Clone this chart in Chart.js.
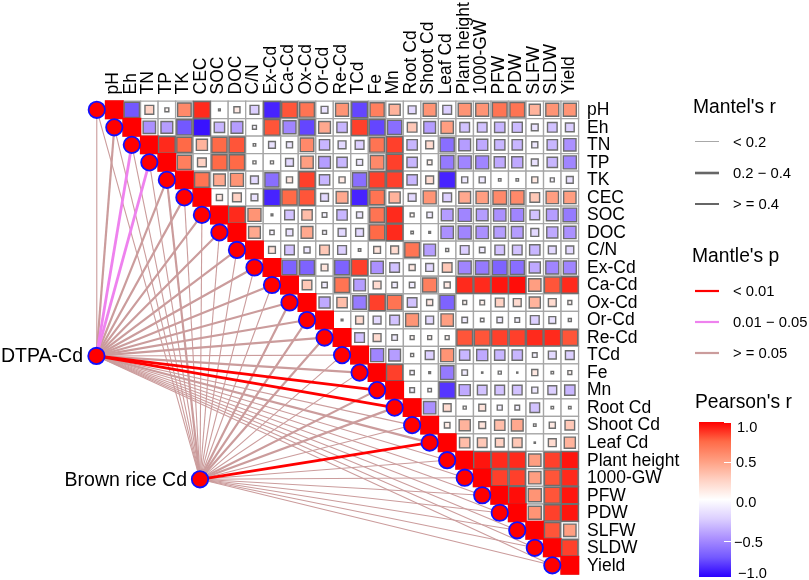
<!DOCTYPE html>
<html>
<head>
<meta charset="utf-8">
<title>Mantel test</title>
<script src="https://cdn.jsdelivr.net/npm/chart.js@4"></script>
<style>
  html, body { margin: 0; padding: 0; background: #fff; }
  canvas { display: block; }
</style>
</head>
<body>
<canvas id="grafico" width="809" height="580"></canvas>
<script>
// variables, same order on both sides of the triangle
const variables = ['pH', 'Eh', 'TN', 'TP', 'TK', 'CEC', 'SOC', 'DOC', 'C/N', 'Ex-Cd', 'Ca-Cd', 'Ox-Cd', 'Or-Cd', 'Re-Cd',
  'TCd', 'Fe', 'Mn', 'Root Cd', 'Shoot Cd', 'Leaf Cd', 'Plant height', '1000-GW', 'PFW', 'PDW', 'SLFW', 'SLDW', 'Yield'];

// Pearson's r, each row starts on the diagonal
const rPH = [1, -.75, .25, .05, .6, .9, .01, .12, -.25, -.9, .8, .7, -.15, .55, -.8, .65, .4, -.2, .55, -.25, .55, .55, .7, .7, .4, .55, .55];
const rEh = [1, -.5, -.45, -.75, -.95, -.35, -.45, -.05, .8, -.55, -.8, .45, -.35, .85, -.8, -.65, .3, -.45, .5, -.3, -.3, -.35, -.33, -.15, -.3, -.25];
const rTN = [1, .9, .75, .4, .75, .8, .02, -.15, -.12, .6, -.35, -.2, -.25, .7, .85, -.35, .2, -.65, -.45, -.4, -.35, -.35, -.12, -.35, -.5];
const rTP = [1, .65, .25, .75, .75, .03, .03, -.2, .5, -.45, -.35, -.12, .6, .85, -.35, .07, -.6, -.55, -.55, -.4, -.4, -.15, -.35, -.55];
const rTK = [1, .7, .45, .55, -.2, -.65, .12, .85, -.35, .12, -.65, .85, .85, -.35, .2, -.9, -.12, -.12, -.02, -.02, .12, -.05, -.15];
const rCEC = [1, .12, .25, -.15, -.9, .75, .8, -.2, .45, -.9, .7, .4, -.2, .55, -.25, .45, .5, .6, .6, .3, .5, .5];
const rSOC = [1, .9, .55, .01, -.3, .35, -.07, -.35, -.12, .7, .9, .05, -.1, -.45, -.55, -.45, -.5, -.55, -.3, -.45, -.6];
const rDOC = [1, .45, -.06, -.15, .45, -.05, -.2, -.2, .75, .9, .02, .01, -.5, -.55, -.5, -.45, -.45, -.2, -.4, -.5];
const rCN = [1, .15, -.3, -.12, .3, -.25, .02, .15, .2, .7, -.45, .03, -.25, -.1, -.3, -.3, -.35, -.2, -.2];
const rEx = [1, -.7, -.7, .15, -.7, .85, -.5, -.3, .12, -.2, .3, -.55, -.6, -.7, -.65, -.4, -.55, -.55];
const rCa = [1, .3, -.1, .7, -.45, .2, -.1, -.1, .65, .12, .9, .9, .95, .97, .5, .8, .9];
const rOx = [1, -.4, .35, -.6, .85, .7, -.3, .12, -.7, .05, .07, .25, .2, .4, .2, .05];
const rOr = [1, .01, .2, -.2, -.3, .55, -.2, .5, -.1, -.04, -.1, -.07, -.25, -.15, -.03];
const rRe = [1, -.3, .2, -.1, .05, .05, .05, .8, .8, .85, .85, .9, .9, .8];
const rTCd = [1, -.55, -.45, .03, -.25, .55, -.35, -.4, -.35, -.35, -.07, -.2, -.25];
const rFe = [1, .85, -.06, .01, -.6, -.1, .005, -.03, .004, .12, .02, .05];
const rMn = [1, -.07, -.04, -.85, -.4, -.3, -.3, -.3, -.12, -.25, -.35];
const rRoot = [1, -.5, .2, .03, .15, -.08, -.07, -.3, .02, .02];
const rShoot = [1, .1, .4, .15, .35, .45, .02, .12, .3];
const rLeaf = [1, .35, .3, .25, .3, .005, .2, .4];
const rPlant = [1, .95, .9, .9, .5, .85, .95];
const r1000 = [1, .85, .85, .5, .8, .9];
const rPFW = [1, .97, .55, .8, .95];
const rPDW = [1, .55, .85, .95];
const rSLFW = [1, .8, .5];
const rSLDW = [1, .85];
const rYield = [1];

// Mantel classes per variable. r: 0 = <0.2, 1 = 0.2-0.4, 2 = >=0.4   p: 0 = <0.01, 1 = 0.01-0.05, 2 = >=0.05
const dtpaR = [0, 1, 2, 2, 1, 1, 1, 1, 1, 1, 1, 1, 1, 1, 0, 1, 2, 2, 0, 1, 0, 0, 0, 0, 0, 0, 0];
const dtpaP = [2, 2, 1, 1, 2, 2, 2, 2, 2, 2, 2, 2, 2, 2, 2, 2, 0, 0, 2, 2, 2, 2, 2, 2, 2, 2, 2];
const brownR = [0, 0, 0, 0, 1, 0, 0, 0, 0, 0, 0, 1, 1, 1, 0, 0, 1, 1, 0, 2, 0, 0, 0, 0, 0, 0, 0];
const brownP = [2, 2, 2, 2, 2, 2, 2, 2, 2, 2, 2, 2, 2, 2, 2, 2, 2, 2, 2, 0, 2, 2, 2, 2, 2, 2, 2];

const corrRows = [rPH, rEh, rTN, rTP, rTK, rCEC, rSOC, rDOC, rCN, rEx, rCa, rOx, rOr, rRe, rTCd, rFe, rMn, rRoot, rShoot,
  rLeaf, rPlant, r1000, rPFW, rPDW, rSLFW, rSLDW, rYield];

// layout, all in cell units through the scales
const cell = 17.52;
const originX = 114.3;
const originY = 109.8;
const dtpaNode = { x: -1.02, y: 14.05 };
const brownNode = { x: 4.89, y: 21.09 };

const widthByR = [1.1, 2.2, 2.8];
const colorByP = ['#ff0000', '#ee82ee', '#cb9c9c'];
const font = '"Liberation Sans", Arial, sans-serif';

const redStops = ['#ffffff', '#ffd2c4', '#ff9e81', '#ff6a47', '#ff0000'];
const blueStops = ['#ffffff', '#dccfff', '#ab90ff', '#7358ff', '#2a00ff'];

function hexToRgb(h) {
  return [parseInt(h.slice(1, 3), 16), parseInt(h.slice(3, 5), 16), parseInt(h.slice(5, 7), 16)];
}

function fillColor(r) {
  const stops = r >= 0 ? redStops : blueStops;
  const t = Math.min(Math.abs(r), 1) * (stops.length - 1);
  const i = Math.min(Math.floor(t), stops.length - 2);
  const a = hexToRgb(stops[i]);
  const b = hexToRgb(stops[i + 1]);
  const f = t - i;
  return 'rgb(' + a.map((v, k) => Math.round(v + (b[k] - v) * f)).join(',') + ')';
}

const cellPoints = [];
corrRows.forEach((row, i) => {
  row.forEach((r, k) => {
    cellPoints.push({ x: i + k, y: i, r: r });
  });
});

const nodePoints = variables.map((v, i) => ({ x: i - 1, y: i }));

function linkSets(node, rClass, pClass) {
  return nodePoints.map((p, i) => ({
    data: [node, p],
    showLine: true,
    pointRadius: 0,
    borderColor: colorByP[pClass[i]],
    borderWidth: widthByR[rClass[i]],
    tension: 0,
    // red and pink links lie above the brown ones
    order: pClass[i] === 2 ? 10 : 9
  }));
}

const labelsPlugin = {
  id: 'labelsPlugin',
  afterDraw(chart) {
    const c = chart.ctx;
    const sx = chart.scales.x;
    const sy = chart.scales.y;
    c.save();
    c.fillStyle = '#000';

    // top and right labels
    c.font = '17.5px ' + font;
    c.textBaseline = 'middle';
    variables.forEach((v, i) => {
      c.save();
      c.translate(sx.getPixelForValue(i) - 1, 94.5);
      c.rotate(-Math.PI / 2);
      c.textAlign = 'left';
      c.fillText(v, 0, 0);
      c.restore();
      c.textAlign = 'left';
      c.fillText(v, 587, sy.getPixelForValue(i) + 0.5);
    });

    // the two Cd nodes
    c.font = '19.5px ' + font;
    c.textAlign = 'right';
    c.fillText('DTPA-Cd', 83, sy.getPixelForValue(dtpaNode.y) + 1);
    c.fillText('Brown rice Cd', 187, sy.getPixelForValue(brownNode.y) + 1);

    // legend
    c.textAlign = 'left';
    c.textBaseline = 'alphabetic';
    c.font = '19.3px ' + font;
    c.fillText("Mantel's r", 693, 113);
    c.fillText("Mantle's p", 692, 262);
    c.fillText("Pearson's r", 695, 408);

    const rows = [
      [141.5, '#a8a8a8', 1, '< 0.2'],
      [173, '#666666', 2.6, '0.2 \u2212 0.4'],
      [204, '#666666', 2, '> = 0.4'],
      [291, '#ff0000', 2.2, '< 0.01'],
      [322, '#ee82ee', 2.2, '0.01 \u2212 0.05'],
      [353, '#cb9c9c', 2.2, '> = 0.05']
    ];
    c.font = '14.8px ' + font;
    c.textBaseline = 'middle';
    rows.forEach(l => {
      c.strokeStyle = l[1];
      c.lineWidth = l[2];
      c.beginPath();
      c.moveTo(695, l[0]);
      c.lineTo(719, l[0]);
      c.stroke();
      c.fillText(l[3], 733, l[0] + 1);
    });

    // colour bar
    const g = c.createLinearGradient(0, 422, 0, 577);
    redStops.forEach((s, i) => g.addColorStop(0.5 - 0.5 * i / (redStops.length - 1), s));
    blueStops.forEach((s, i) => { if (i > 0) g.addColorStop(0.5 + 0.5 * i / (blueStops.length - 1), s); });
    c.fillStyle = g;
    c.fillRect(699, 422, 32, 155);
    c.strokeStyle = '#fff';
    c.lineWidth = 1;
    [422, 462, 541, 577].forEach(y => {
      c.beginPath();
      c.moveTo(724, y + 0.5);
      c.lineTo(731, y + 0.5);
      c.stroke();
    });
    c.fillStyle = '#000';
    c.font = '14.6px ' + font;
    c.fillText('1.0', 737, 428);
    c.fillText('0.5', 736, 463);
    c.fillText('0.0', 736, 503);
    c.fillText('\u22120.5', 734, 543);
    c.fillText('\u22121.0', 738, 574);
    c.restore();
  }
};

new Chart(document.getElementById('grafico').getContext('2d'), {
  type: 'scatter',
  data: {
    datasets: [
      {
        data: nodePoints.concat([dtpaNode, brownNode]),
        pointStyle: 'circle',
        pointRadius: 8.2,
        pointBackgroundColor: '#ff0000',
        pointBorderColor: '#1010ff',
        pointBorderWidth: 1.8,
        order: 1
      },
      {
        // coloured square, side goes with sqrt(|r|)
        data: cellPoints,
        pointStyle: 'rect',
        pointRadius: ctx => cell * Math.sqrt(Math.abs(ctx.raw.r)) / Math.SQRT2,
        pointBackgroundColor: ctx => fillColor(ctx.raw.r),
        pointBorderColor: ctx => (ctx.raw.r === 1 ? '#ff0000' : '#6e6e6e'),
        pointBorderWidth: 1.4,
        order: 2
      },
      {
        // empty grid cell below each square
        data: cellPoints,
        pointStyle: 'rect',
        pointRadius: cell / Math.SQRT2,
        pointBackgroundColor: '#ffffff',
        pointBorderColor: '#a6a6a6',
        pointBorderWidth: 1.3,
        order: 3
      },
      ...linkSets(dtpaNode, dtpaR, dtpaP),
      ...linkSets(brownNode, brownR, brownP)
    ]
  },
  options: {
    responsive: false,
    animation: false,
    devicePixelRatio: 1,
    layout: { padding: 0, autoPadding: false },
    events: [],
    plugins: { legend: { display: false }, tooltip: { enabled: false } },
    scales: {
      x: { type: 'linear', display: false, min: -originX / cell, max: (809 - originX) / cell },
      y: { type: 'linear', display: false, reverse: true, min: -originY / cell, max: (580 - originY) / cell }
    }
  },
  plugins: [labelsPlugin]
});
</script>
</body>
</html>
